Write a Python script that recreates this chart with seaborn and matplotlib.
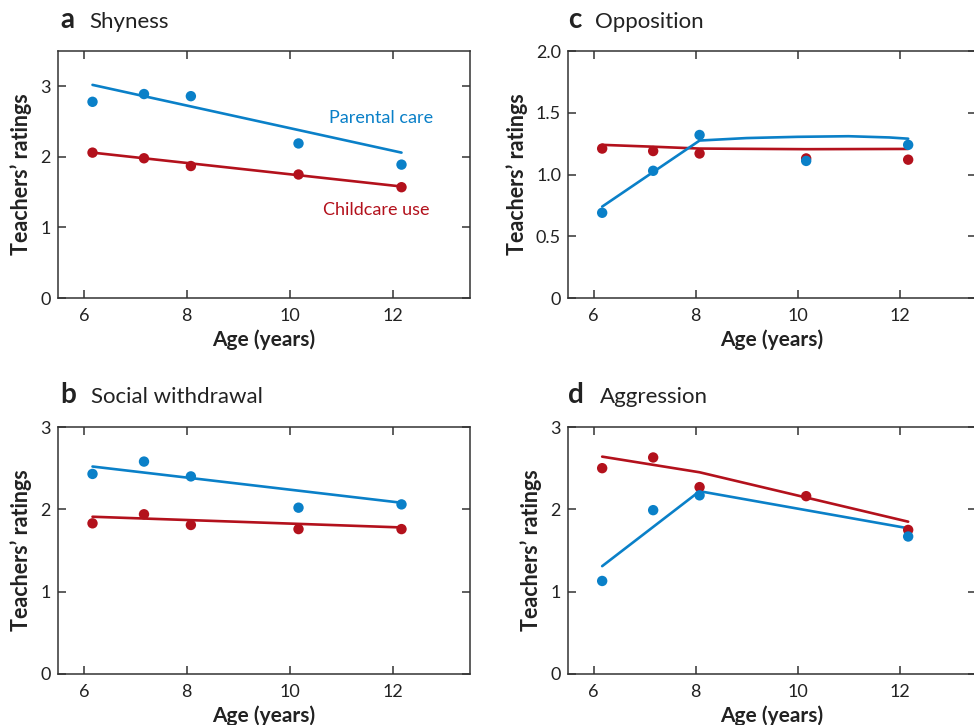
import numpy as np
import pandas as pd
import matplotlib
matplotlib.use("Agg")
import matplotlib.pyplot as plt
import seaborn as sns

# ---------------- data ----------------
ages = [6.17, 7.17, 8.08, 10.17, 12.17]
series = ["Parental care", "Childcare use"]

# observed points
shy_parental = [2.78, 2.89, 2.86, 2.19, 1.89]
shy_childcare = [2.06, 1.98, 1.87, 1.75, 1.57]
wd_parental = [2.43, 2.58, 2.40, 2.02, 2.06]
wd_childcare = [1.83, 1.94, 1.81, 1.76, 1.76]
opp_parental = [0.69, 1.03, 1.32, 1.11, 1.24]
opp_childcare = [1.21, 1.19, 1.17, 1.13, 1.12]
agg_parental = [1.13, 1.99, 2.17, np.nan, 1.67]
agg_childcare = [2.50, 2.63, 2.27, 2.16, 1.75]

# fitted lines
fit_ages = [6.17, 12.17]
shy_fit_parental = [3.02, 2.06]
shy_fit_childcare = [2.06, 1.58]
wd_fit_parental = [2.52, 2.08]
wd_fit_childcare = [1.91, 1.78]
opp_fit_ages_parental = [6.17, 7.17, 8.08, 9.0, 10.0, 11.0, 11.8, 12.17]
opp_fit_parental = [0.74, 1.02, 1.275, 1.295, 1.305, 1.31, 1.30, 1.29]
opp_fit_ages_childcare = [6.17, 7.17, 8.08, 10.17, 12.17]
opp_fit_childcare = [1.24, 1.225, 1.21, 1.205, 1.207]
agg_fit_ages = [6.17, 8.08, 12.17]
agg_fit_parental = [1.31, 2.22, 1.77]
agg_fit_childcare = [2.64, 2.45, 1.85]

panel_letters = ["a", "b", "c", "d"]
panel_titles = ["Shyness", "Social withdrawal", "Opposition", "Aggression"]
x_ticks = [6, 8, 10, 12]
xlabel = "Age (years)"
ylabel = "Teachers’ ratings"

BLUE = "#0a80c8"
RED = "#b3111c"
DARK = "#333333"

sns.set_style("ticks")
plt.rcParams["font.family"] = ["Lato", "DejaVu Sans"]

W, H = 974, 725
fig = plt.figure(figsize=(W / 100, H / 100), dpi=100)

def rect(l, t, w, h):
    return [l / W, 1 - (t + h) / H, w / W, h / H]

axes = {
    "a": fig.add_axes(rect(58, 51, 412, 247)),
    "b": fig.add_axes(rect(58, 427, 412, 247)),
    "c": fig.add_axes(rect(568, 51, 408, 247)),
    "d": fig.add_axes(rect(568, 427, 408, 247)),
}

def long_df(x, a, b):
    return pd.DataFrame({
        "age": list(x) + list(x),
        "rating": list(a) + list(b),
        "group": [series[0]] * len(x) + [series[1]] * len(x),
    })

panels = {
    "a": dict(pts=(ages, shy_parental, shy_childcare),
              fitp=(fit_ages, shy_fit_parental), fitc=(fit_ages, shy_fit_childcare),
              ylim=(0, 3.5), yticks=[0, 1, 2, 3], ylabels=["0", "1", "2", "3"]),
    "b": dict(pts=(ages, wd_parental, wd_childcare),
              fitp=(fit_ages, wd_fit_parental), fitc=(fit_ages, wd_fit_childcare),
              ylim=(0, 3), yticks=[0, 1, 2, 3], ylabels=["0", "1", "2", "3"]),
    "c": dict(pts=(ages, opp_parental, opp_childcare),
              fitp=(opp_fit_ages_parental, opp_fit_parental),
              fitc=(opp_fit_ages_childcare, opp_fit_childcare),
              ylim=(0, 2), yticks=[0, 0.5, 1.0, 1.5, 2.0],
              ylabels=["0", "0.5", "1.0", "1.5", "2.0"]),
    "d": dict(pts=(ages, agg_parental, agg_childcare),
              fitp=(agg_fit_ages, agg_fit_parental), fitc=(agg_fit_ages, agg_fit_childcare),
              ylim=(0, 3), yticks=[0, 1, 2, 3], ylabels=["0", "1", "2", "3"]),
}

palette = {series[0]: BLUE, series[1]: RED}

for key, p in panels.items():
    ax = axes[key]
    fc = pd.DataFrame({"age": p["fitc"][0], "rating": p["fitc"][1]})
    fp = pd.DataFrame({"age": p["fitp"][0], "rating": p["fitp"][1]})
    sns.lineplot(data=fc, x="age", y="rating", color=RED, lw=1.9, ax=ax, zorder=2)
    sns.lineplot(data=fp, x="age", y="rating", color=BLUE, lw=1.9, ax=ax, zorder=2)
    d = long_df(*p["pts"]).dropna()
    d = d.iloc[::-1]  # childcare first, parental on top
    sns.scatterplot(data=d, x="age", y="rating", hue="group", palette=palette,
                    s=56, edgecolor="none", legend=False, ax=ax, zorder=3)
    ax.set_xlim(5.5, 13.5)
    ax.set_ylim(*p["ylim"])
    ax.set_xticks(x_ticks)
    ax.set_xticklabels([str(t) for t in x_ticks])
    ax.set_yticks(p["yticks"])
    ax.set_yticklabels(p["ylabels"])
    ax.tick_params(direction="in", top=True, right=True, length=6, width=1.1,
                   color=DARK, labelsize=13, labelcolor="#222222")
    ax.tick_params(axis="x", pad=7)
    ax.tick_params(axis="y", pad=5)
    for s in ax.spines.values():
        s.set_visible(True)
        s.set_linewidth(1.1)
        s.set_color(DARK)
    ax.set_xlabel(xlabel, fontsize=15, fontweight="bold", color="#222222", labelpad=4)
    ax.set_ylabel(ylabel, fontsize=15.5, fontweight="bold", color="#222222", labelpad=6)
    ax.grid(False)

# panel labels
title_pos = {"a": (60, 89, 28), "b": (60, 91, 403), "c": (568, 595, 28), "d": (568, 600, 403)}
for key, letter, title in zip(["a", "b", "c", "d"], panel_letters, panel_titles):
    lx, tx, by = title_pos[key]
    fig.text(lx / W, 1 - by / H, letter, fontsize=20, fontweight="bold",
             color="#222222", ha="left", va="baseline")
    fig.text(tx / W, 1 - by / H, title, fontsize=16, color="#222222",
             ha="left", va="baseline")

# series annotations in panel a
axes["a"].text(11.77, 2.55, series[0], color=BLUE, fontsize=13, ha="center", va="center")
axes["a"].text(11.67, 1.25, series[1], color=RED, fontsize=13, ha="center", va="center")

fig.savefig("out.png", dpi=100)
